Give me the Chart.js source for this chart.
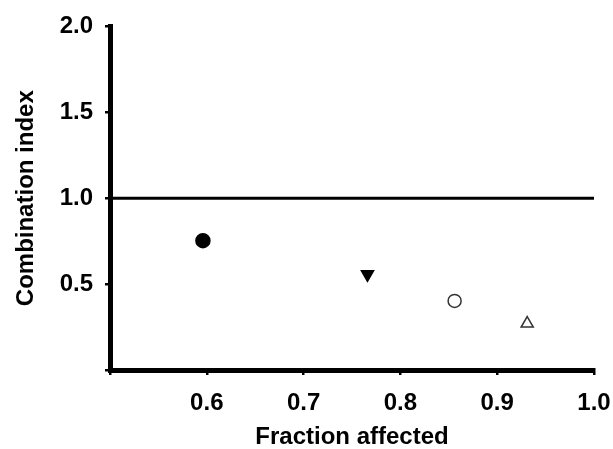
<!DOCTYPE html>
<html lang="en">
<head>
    <meta charset="UTF-8">
    <title>Combination index vs fraction affected</title>
    <style>
        body {
            margin: 0;
            padding: 0;
            background-color: #fff;
        }
        #wrap {
            width: 613px;
            height: 449px;
        }
    </style>
    <script src="https://cdn.jsdelivr.net/npm/chart.js@4.4.0/dist/chart.umd.min.js"></script>
</head>
<body>
    <div id="wrap"><canvas id="ciChart" width="613" height="449"></canvas></div>

    <script>
        // Data
        const fractionAffected = [0.596, 0.766, 0.856, 0.931];
        const combinationIndex = [0.753, 0.557, 0.402, 0.27];
        // additivity line CI = 1
        const refLineX = [0.5, 1.0];
        const refLineY = [1.0, 1.0];
        const xTicks = [0.5, 0.6, 0.7, 0.8, 0.9, 1.0];
        const yTicks = [0, 0.5, 1.0, 1.5, 2.0];

        const fontFamily = '"Liberation Sans", Arial, sans-serif';

        // marker look for each point (filled circle, filled down triangle, open circle, open triangle)
        const markerStyle = ['circle', 'triangle', 'circle', 'triangle'];
        const markerRotation = [0, 180, 0, 0];
        const markerFill = ['#000', '#000', '#fff', '#fff'];
        const markerBorder = ['#000', '#000', '#333', '#333'];
        const markerRadius = [7, 7, 6.5, 7];

        const points = fractionAffected.map((x, i) => ({ x: x, y: combinationIndex[i] }));
        const line = refLineX.map((x, i) => ({ x: x, y: refLineY[i] }));

        const ctx = document.getElementById('ciChart').getContext('2d');
        const ciChart = new Chart(ctx, {
            type: 'scatter',
            data: {
                datasets: [{
                    type: 'line',
                    data: line,
                    borderColor: '#000',
                    borderWidth: 3,
                    pointRadius: 0,
                    fill: false
                }, {
                    data: points,
                    pointStyle: markerStyle,
                    rotation: markerRotation,
                    backgroundColor: markerFill,
                    borderColor: markerBorder,
                    borderWidth: 1.5,
                    pointRadius: markerRadius
                }]
            },
            options: {
                responsive: false,
                animation: false,
                events: [],
                layout: {
                    padding: { left: 0, right: 0, top: 20, bottom: 0 }
                },
                plugins: {
                    legend: { display: false },
                    tooltip: { enabled: false }
                },
                scales: {
                    x: {
                        type: 'linear',
                        min: 0.5,
                        max: 1.0,
                        afterBuildTicks: s => { s.ticks = xTicks.map(v => ({ value: v })); },
                        afterFit: s => {
                            s.height = 449 - 370;
                            s.paddingLeft = 0;
                            s.paddingRight = 19;
                        },
                        border: { display: true, width: 5, color: '#000' },
                        grid: {
                            drawOnChartArea: false,
                            drawTicks: true,
                            tickLength: 5,
                            lineWidth: 2.5,
                            color: '#000'
                        },
                        ticks: {
                            color: '#000',
                            padding: 14,
                            font: { family: fontFamily, size: 24, weight: 'bold' },
                            callback: v => (v === 0.5 ? '' : v.toFixed(1))
                        },
                        title: {
                            display: true,
                            text: 'Fraction affected',
                            color: '#000',
                            padding: { top: 4, bottom: -3 },
                            font: { family: fontFamily, size: 24, weight: 'bold' }
                        }
                    },
                    y: {
                        type: 'linear',
                        min: 0,
                        max: 2.0,
                        afterBuildTicks: s => { s.ticks = yTicks.map(v => ({ value: v })); },
                        afterFit: s => { s.width = 110; },
                        border: { display: true, width: 5, color: '#000' },
                        grid: {
                            drawOnChartArea: false,
                            drawTicks: true,
                            tickLength: 5,
                            lineWidth: 2.5,
                            color: '#000'
                        },
                        ticks: {
                            color: '#000',
                            padding: 12,
                            font: { family: fontFamily, size: 24, weight: 'bold' },
                            callback: v => (v === 0 ? '' : v.toFixed(1))
                        },
                        title: {
                            display: true,
                            text: 'Combination index',
                            color: '#000',
                            padding: { top: 12, bottom: 0 },
                            font: { family: fontFamily, size: 24, weight: 'bold' }
                        }
                    }
                }
            }
        });
    </script>
</body>
</html>
